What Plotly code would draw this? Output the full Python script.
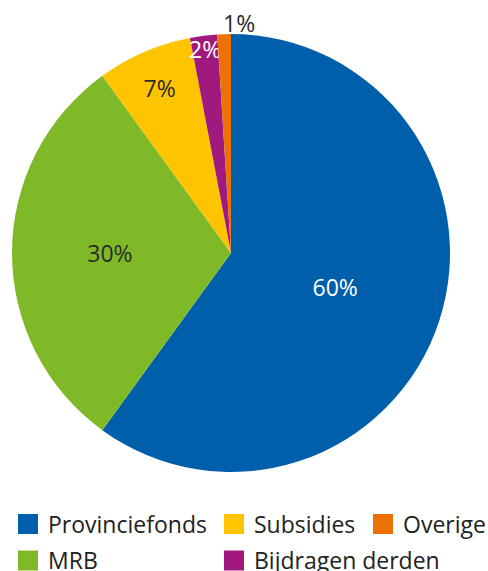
import math
import plotly.graph_objects as go

# ---- data ----
labels = ["Provinciefonds", "MRB", "Subsidies", "Bijdragen derden", "Overige"]
values = [60, 30, 7, 2, 1]
colors = ["#005fab", "#80b927", "#ffc400", "#a0197f", "#ee7203"]
text_colors = ["#ffffff", "#2b2b2b", "#2b2b2b", "#ffffff", "#2b2b2b"]
text_positions = ["inside", "inside", "inside", "inside", "none"]

# legend layout: order as read column by column in the reference
legend_items = ["Provinciefonds", "Subsidies", "Overige", "MRB", "Bijdragen derden"]
legend_cols_px = [18, 224, 373, 18, 224]
legend_rows_px = [524, 524, 524, 560.5, 560.5]

W, H = 488, 571
FONT = "Open Sans"
FS = 23
DOM_X = [12 / W, 450 / W]
DOM_Y = [(H - 472) / H, (H - 34) / H]

fig = go.Figure()
fig.add_trace(go.Pie(
    labels=labels,
    values=values,
    sort=False,
    direction="clockwise",
    rotation=0,
    marker=dict(colors=colors, line=dict(width=0)),
    texttemplate="%{percent:.0%}",
    textposition=text_positions,
    insidetextorientation="horizontal",
    insidetextfont=dict(color=text_colors, size=FS, family=FONT),
    showlegend=False,
    hoverinfo="label+percent",
    domain=dict(x=DOM_X, y=DOM_Y),
))

# outside label of the smallest slice, placed just above its outer edge
total = sum(values)
mid_frac = (total - values[-1] / 2) / total
ang = 2 * math.pi * mid_frac
cx = (DOM_X[0] + DOM_X[1]) / 2
cy = (DOM_Y[0] + DOM_Y[1]) / 2
r_x = (DOM_X[1] - DOM_X[0]) / 2
r_y = (DOM_Y[1] - DOM_Y[0]) / 2
fig.add_annotation(
    x=cx + r_x * math.sin(ang), y=cy + r_y * math.cos(ang),
    xref="paper", yref="paper", showarrow=False,
    text=f"{round(100 * values[-1] / total)}%",
    xanchor="left", yanchor="middle", xshift=-3, yshift=11,
    font=dict(size=FS, color=text_colors[-1], family=FONT),
)

color_of = dict(zip(labels, colors))
for i, name in enumerate(legend_items):
    key = "legend" if i == 0 else f"legend{i + 1}"
    fig.add_trace(go.Scatter(
        x=[None], y=[None], mode="markers", name=name,
        marker=dict(symbol="square", size=16, color=color_of[name],
                    line=dict(width=4, color=color_of[name])),
        legend=key, showlegend=True,
    ))
    fig.layout[key] = dict(
        x=(legend_cols_px[i] - 10) / W, y=(H - legend_rows_px[i]) / H,
        xref="container", yref="container",
        xanchor="left", yanchor="middle",
        font=dict(size=FS, color="#222222", family=FONT),
        bgcolor="rgba(0,0,0,0)", borderwidth=0,
    )

fig.update_layout(
    template="none",
    width=W, height=H,
    margin=dict(l=0, r=0, t=0, b=0, autoexpand=False),
    paper_bgcolor="white", plot_bgcolor="white",
    font=dict(family=FONT),
    uniformtext=dict(minsize=FS, mode="show"),
    xaxis=dict(visible=False), yaxis=dict(visible=False),
)

fig.write_html(
    "out.html",
    config={"displayModeBar": False},
    post_script="document.body.style.margin='0px';document.body.style.overflow='hidden';",
)
